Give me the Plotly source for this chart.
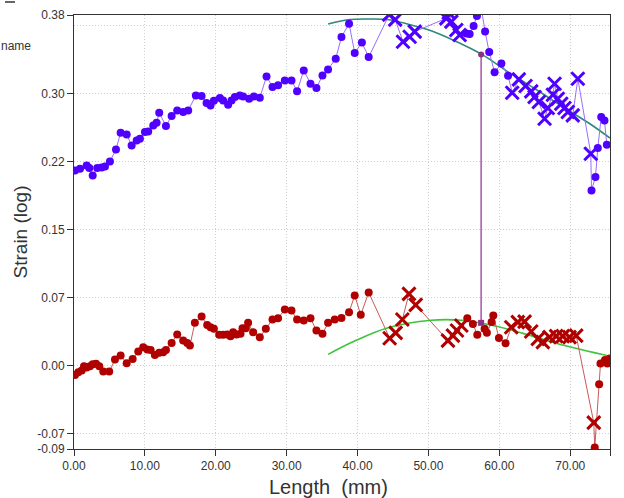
import plotly.graph_objects as go

# ---------------- data ----------------
up_x = [0.14, 0.85, 1.79, 2.16, 2.64, 3.28, 3.90, 4.37, 5.07, 5.92,
        6.58, 7.43, 8.13, 8.84, 9.30, 10.01, 10.47, 11.18, 11.65, 12.02,
        12.97, 13.77, 14.56, 15.40, 16.11, 17.19, 18.00, 18.70, 19.26, 19.73,
        20.58, 21.04, 21.74, 22.22, 22.69, 23.39, 23.86, 24.70, 25.37, 26.21,
        27.16, 28.00, 28.79, 29.74, 30.68, 31.47, 32.41, 33.36, 34.20, 35.05,
        35.84, 36.92, 37.73, 38.80, 39.60, 40.61, 41.57,
        44.46, 45.31, 46.41, 47.35, 48.06,
        52.52, 52.86, 53.23, 53.93, 54.40,
        55.34, 55.81, 56.37, 56.84, 57.36, 57.99, 58.57, 59.33, 60.29, 61.23,
        61.82, 62.75, 63.70, 64.50, 64.97, 65.57, 66.38, 66.84, 67.55, 67.79,
        68.25, 68.73, 69.19, 69.66, 70.36, 71.07, 72.90,
        73.00, 73.56, 73.89, 74.37, 74.83, 75.16]
up_y = [0.2116, 0.2135, 0.2171, 0.2142, 0.2062, 0.2142, 0.2149, 0.2160, 0.2214, 0.2344,
        0.2525, 0.2507, 0.2387, 0.2442, 0.2460, 0.2533, 0.2539, 0.2604, 0.2633, 0.2742,
        0.2598, 0.2706, 0.2767, 0.2749, 0.2767, 0.2929, 0.2923, 0.2847, 0.2821, 0.2872,
        0.2901, 0.2875, 0.2828, 0.2875, 0.2912, 0.2929, 0.2918, 0.2893, 0.2918, 0.2904,
        0.3135, 0.3020, 0.3038, 0.3092, 0.3092, 0.2973, 0.3200, 0.3056, 0.3009, 0.3146,
        0.3211, 0.3327, 0.3562, 0.3706, 0.3389, 0.3501, 0.3344,
        0.3804, 0.3750, 0.3511, 0.3565, 0.3620,
        0.3764, 0.3825, 0.3728, 0.3638, 0.3584,
        0.3601, 0.3595, 0.3681, 0.3790, 0.3920, 0.3620, 0.3398, 0.3180, 0.3274, 0.3143,
        0.2958, 0.3103, 0.3031, 0.2973, 0.2912, 0.2858, 0.2677, 0.2793, 0.2937, 0.3056,
        0.2893, 0.2839, 0.2793, 0.2749, 0.2713, 0.3110, 0.2297,
        0.1900, 0.2045, 0.2359, 0.2695, 0.2658, 0.2395]
up_kind = (["o"] * 57 + ["x"] * 5 + ["x"] * 5 + ["o"] * 10 + ["x"] * 17 + ["o"] * 6)

lo_x = [0.14, 0.61, 1.09, 1.41, 1.79, 2.25, 2.64, 3.10, 3.57, 4.13,
        4.97, 5.78, 6.58, 7.43, 8.27, 9.06, 9.77, 10.33, 10.81, 11.41,
        12.02, 12.58, 12.97, 13.77, 14.56, 15.40, 15.97, 16.35, 17.05, 18.00,
        18.79, 19.26, 19.73, 20.48, 21.04, 21.60, 22.08, 22.45, 22.93, 23.49,
        23.77, 24.24, 24.56, 25.27, 26.21, 27.06, 28.00, 28.79, 29.74, 30.68,
        31.47, 32.41, 33.36, 34.20, 35.05, 35.84, 36.78, 37.73, 38.80, 39.60,
        40.45, 41.57,
        44.53, 45.38, 46.32, 47.25, 48.20,
        52.75, 53.45, 54.02, 54.64,
        55.48, 56.27, 56.89, 57.92, 58.24, 58.91, 59.15, 59.94, 60.88,
        61.68, 62.61, 63.56, 64.50, 65.43, 66.14, 67.08, 68.02, 68.95, 69.90,
        70.84, 73.32,
        73.46, 74.08, 74.27, 74.90, 75.23, 75.61]
lo_y = [-0.0098, -0.0068, -0.0051, -0.0003, -0.0018, -0.0003, 0.0018, 0.0022, -0.0003, -0.0062,
        -0.0062, 0.0068, 0.0112, 0.0029, 0.0076, 0.0155, 0.0203, 0.0177, 0.0173, 0.0119,
        0.0141, 0.0148, 0.0173, 0.0249, 0.0339, 0.0274, 0.0249, 0.0220, 0.0466, 0.0534,
        0.0444, 0.0419, 0.0401, 0.0336, 0.0336, 0.0339, 0.0322, 0.0365, 0.0339, 0.0347,
        0.0409, 0.0409, 0.0466, 0.0365, 0.0311, 0.0401, 0.0502, 0.0517, 0.0610, 0.0599,
        0.0502, 0.0491, 0.0517, 0.0383, 0.0347, 0.0466, 0.0502, 0.0520, 0.0582, 0.0762,
        0.0553, 0.0795,
        0.0300, 0.0358, 0.0502, 0.0780, 0.0661,
        0.0274, 0.0328, 0.0383, 0.0437,
        0.0517, 0.0455, 0.0336, 0.0401, 0.0358, 0.0474, 0.0545, 0.0303, 0.0246,
        0.0419, 0.0474, 0.0480, 0.0372, 0.0293, 0.0257, 0.0311, 0.0322, 0.0322, 0.0311,
        0.0328, -0.0614,
        -0.0885, -0.0200, 0.0026, 0.0063, 0.0026, 0.0081]
lo_kind = (["o"] * 62 + ["x"] * 5 + ["x"] * 4 + ["o"] * 9 + ["x"] * 12 + ["o"] * 6)

fit_up_x = [35.85, 38.95, 41.81, 44.19, 47.04, 50.38, 53.71, 57.53, 61.33, 65.14, 68.94, 72.76, 75.61]
fit_up_y = [0.3703, 0.3751, 0.3757, 0.3751, 0.3703, 0.3629, 0.3520, 0.3373, 0.3179, 0.2996, 0.2806, 0.2622, 0.2467]

fit_lo_x = [35.85, 39.43, 44.19, 50.38, 54.66, 58.47, 63.23, 68.00, 71.80, 75.61]
fit_lo_y = [0.0125, 0.0264, 0.0411, 0.0494, 0.0494, 0.0448, 0.0355, 0.0246, 0.0172, 0.0105]

marker_x = [57.43, 57.43]
marker_y = [0.0466, 0.3373]

x_ticks = [0, 10, 20, 30, 40, 50, 60, 70, 75.61]
x_labels = ["0.00", "10.00", "20.00", "30.00", "40.00", "50.00", "60.00", "70.00", "75.61"]
y_ticks = [-0.09, -0.0737, 0.0, 0.0737, 0.1474, 0.2211, 0.2948, 0.38]
y_labels = ["-0.09", "-0.07", "0.00", "0.07", "0.15", "0.22", "0.30", "0.38"]
y_grid = [-0.0737, 0.0, 0.0737, 0.1474, 0.2211, 0.2948, 0.3685]

# ---------------- figure ----------------
FONT = "Liberation Sans, Arial, sans-serif"
sym = {"o": "circle", "x": "x-thin"}
size = {"o": 8, "x": 13}
lw = {"o": 0, "x": 3}

fig = go.Figure()

fig.add_trace(go.Scatter(
    x=fit_up_x, y=fit_up_y, mode="lines", line=dict(color="#2b8a7c", width=1.6, shape="spline"),
    showlegend=False, hoverinfo="skip"))
fig.add_trace(go.Scatter(
    x=fit_lo_x, y=fit_lo_y, mode="lines", line=dict(color="#3cc43c", width=1.6, shape="spline"),
    showlegend=False, hoverinfo="skip"))

fig.add_trace(go.Scatter(
    x=up_x, y=up_y, mode="lines+markers",
    line=dict(color="#9a6cff", width=1),
    marker=dict(color="#5000ff", opacity=1, symbol=[sym[k] for k in up_kind],
                size=[size[k] for k in up_kind],
                line=dict(width=[lw[k] for k in up_kind], color="#5000ff")),
    showlegend=False))
fig.add_trace(go.Scatter(
    x=lo_x, y=lo_y, mode="lines+markers",
    line=dict(color="#c85a5a", width=1),
    marker=dict(color="#b00000", opacity=1, symbol=[sym[k] for k in lo_kind],
                size=[size[k] for k in lo_kind],
                line=dict(width=[lw[k] for k in lo_kind], color="#b00000")),
    showlegend=False))

fig.add_trace(go.Scatter(
    x=marker_x, y=marker_y, mode="lines+markers",
    line=dict(color="#a455a8", width=1.5),
    marker=dict(color="#8e2f86", symbol=["square", "circle"], size=6),
    showlegend=False))

fig.update_xaxes(
    range=[0, 75.61], tickmode="array", tickvals=x_ticks, ticktext=x_labels,
    showgrid=True, gridcolor="#cfcfcf", griddash="1px,2px", gridwidth=1,
    zeroline=False, showline=True, linecolor="#333333", linewidth=1, mirror=True,
    ticks="outside", ticklen=6, tickcolor="#333333", automargin=False,
    tickfont=dict(family=FONT, size=12, color="#333333"))

fig.update_yaxes(
    range=[-0.09, 0.38], tickmode="array", tickvals=y_ticks, ticktext=y_labels,
    showgrid=False, zeroline=False, showline=True, linecolor="#333333", linewidth=1, mirror=True,
    ticks="outside", ticklen=6, tickcolor="#333333", automargin=False,
    tickfont=dict(family=FONT, size=12, color="#333333"),
    minor=dict(tickmode="array", tickvals=y_grid, showgrid=True, gridcolor="#cfcfcf",
               griddash="1px,2px", gridwidth=1, ticks=""),
    title=dict(text="Strain (log)", font=dict(family=FONT, size=19, color="#333333"), standoff=4))

# x-axis title (slightly left of centre, as in the reference)
fig.add_annotation(text="Length  (mm)", xref="paper", yref="paper", x=0.4748, y=-0.088,
                   xanchor="center", yanchor="middle", showarrow=False,
                   font=dict(family=FONT, size=20, color="#333333"))

fig.add_annotation(text="name", xref="paper", yref="paper", x=-0.0765, y=0.928,
                   xanchor="right", yanchor="middle", showarrow=False,
                   font=dict(family=FONT, size=12, color="#333333"))
fig.add_shape(type="line", xref="paper", yref="paper", x0=-0.1287, x1=-0.110, y0=1.030, y1=1.030,
              line=dict(color="#333333", width=1.5))

fig.update_layout(
    width=624, height=498, margin=dict(l=74, r=14, t=15, b=49),
    paper_bgcolor="white", plot_bgcolor="white",
    font=dict(family=FONT, color="#333333"))

fig.write_html("out.html", config={"displayModeBar": False},
               post_script="document.body.style.margin='0px';document.body.style.overflow='hidden';")
